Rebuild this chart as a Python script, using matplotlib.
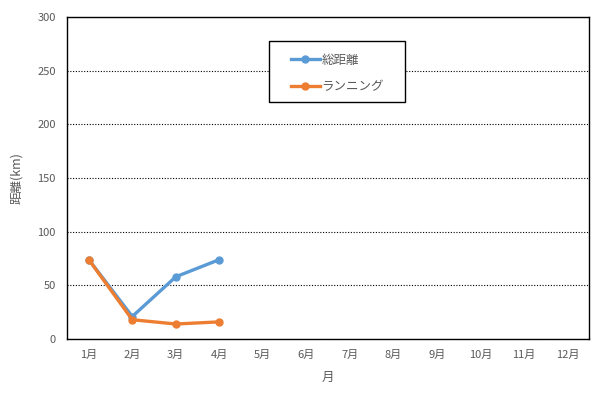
import matplotlib
matplotlib.use("Agg")
import matplotlib.pyplot as plt
from matplotlib.patches import Rectangle

plt.rcParams['font.family'] = ['Noto Sans CJK JP', 'DejaVu Sans']

months = ['1月', '2月', '3月', '4月', '5月', '6月', '7月', '8月', '9月', '10月', '11月', '12月']
total_km = [74, 21, 58, 74]
running_km = [74, 18, 14, 16]

blue = '#5B9BD5'
orange = '#ED7D31'
gray = '#595959'

fig = plt.figure(figsize=(5.94, 3.97), dpi=100)
ax = fig.add_axes([0.1128, 0.146, 0.879, 0.811])

x_all = list(range(1, len(months) + 1))
ax.plot(x_all[:len(total_km)], total_km, color=blue, lw=2.4, marker='o', ms=5, label='総距離')
ax.plot(x_all[:len(running_km)], running_km, color=orange, lw=2.4, marker='o', ms=5, label='ランニング')

ax.set_xlim(0.5, 12.5)
ax.set_ylim(0, 300)
ax.set_yticks(range(0, 301, 50))
ax.set_xticks(x_all)
ax.set_xticklabels(months)
ax.tick_params(length=0, labelsize=8, labelcolor=gray, pad=8)
ax.yaxis.grid(True, color='black', linestyle=(0, (1, 1.5)), lw=0.8)
ax.set_axisbelow(True)
for s in ax.spines.values():
    s.set_color('black')
    s.set_linewidth(1)

ax.set_xlabel('月', fontsize=9, color=gray, labelpad=8)
ax.set_ylabel('距離(km)', fontsize=9, color=gray, labelpad=10)

# legend frame, drawn separately so it can be wider than its content
ax.add_patch(Rectangle((0.4529, 0.743), 0.229, 0.1537, transform=fig.transFigure,
                       facecolor='white', edgecolor='black', lw=1, zorder=5, clip_on=False))
leg = ax.legend(loc='upper left', bbox_to_anchor=(0.49, 0.865),
                bbox_transform=fig.transFigure, fontsize=9, frameon=False,
                handlelength=2.3, handletextpad=0.15, borderpad=0,
                labelspacing=1.1, borderaxespad=0)
leg.set_zorder(6)
for t in leg.get_texts():
    t.set_color(gray)

fig.savefig('out.png', dpi=100)
